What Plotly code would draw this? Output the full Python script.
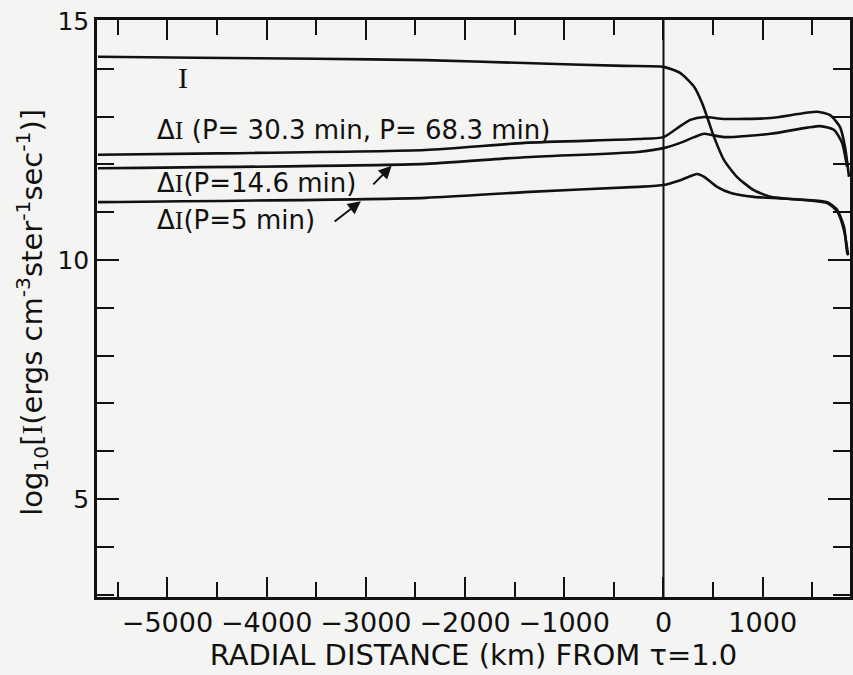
# Intensidad I y perturbaciones ΔI frente a la distancia radial desde tau = 1

import plotly.graph_objects as go

# Curva I
x_I = [-5700, -4700, -3500, -2400, -1400, -400, 0, 170, 310, 390, 440, 510, 610,
       740, 910, 1080, 1250, 1420, 1650, 1750, 1820, 1850, 1862]
y_I = [14.25, 14.23, 14.21, 14.18, 14.12, 14.06, 14.04, 13.91, 13.62, 13.28, 12.99,
       12.57, 12.09, 11.74, 11.46, 11.32, 11.28, 11.26, 11.21, 11.05, 10.69, 10.17, 10.1]

# ΔI (P = 30.3 min, P = 68.3 min)
x_p30 = [-5700, -4500, -2400, -1400, -260, 0, 140, 270, 410, 610, 1080, 1550,
         1680, 1780, 1830, 1870]
y_p30 = [12.20, 12.23, 12.30, 12.45, 12.53, 12.57, 12.76, 12.93, 12.99, 12.95,
         12.97, 13.10, 13.03, 12.78, 12.36, 11.74]

# ΔI (P = 14.6 min)
x_p14 = [-5700, -2400, -1400, -260, 0, 170, 310, 410, 610, 1080, 1580, 1720, 1800, 1850]
y_p14 = [11.92, 12.01, 12.15, 12.26, 12.34, 12.45, 12.57, 12.64, 12.57, 12.64,
         12.80, 12.72, 12.45, 11.95]

# ΔI (P = 5 min)
x_p5 = [-5700, -2400, -1400, -260, 0, 170, 340, 410, 540, 680, 910, 1250, 1650,
        1750, 1820, 1860]
y_p5 = [11.21, 11.30, 11.42, 11.53, 11.57, 11.67, 11.80, 11.74, 11.53, 11.40,
        11.32, 11.28, 11.19, 11.02, 10.62, 10.12]

negro = "#111111"
fondo = "#f4f4f2"
fuente = "DejaVu Sans"
serif_I = '<span style="font-family:Liberation Serif">I</span>'

fig = go.Figure()
for xs, ys in [(x_I, y_I), (x_p30, y_p30), (x_p14, y_p14), (x_p5, y_p5)]:
    fig.add_trace(go.Scatter(x=xs, y=ys, mode="lines",
                             line=dict(color=negro, width=2.6, shape="spline", smoothing=0.6),
                             showlegend=False, hoverinfo="skip"))

# linea vertical en 0
fig.add_vline(x=0, line=dict(color=negro, width=2))

# etiquetas de las curvas
fig.add_annotation(x=-4843, y=13.81, text=serif_I, showarrow=False,
                   font=dict(family="Liberation Serif", size=30, color=negro))
fig.add_annotation(x=-5130, y=12.72, xanchor="left", showarrow=False,
                   text="Δ" + serif_I + " (P= 30.3 min, P= 68.3 min)",
                   font=dict(family=fuente, size=26, color=negro))
fig.add_annotation(x=-5130, y=11.61, xanchor="left", showarrow=False,
                   text="Δ" + serif_I + "(P=14.6 min)",
                   font=dict(family=fuente, size=26, color=negro))
fig.add_annotation(x=-5130, y=10.84, xanchor="left", showarrow=False,
                   text="Δ" + serif_I + "(P=5 min)",
                   font=dict(family=fuente, size=26, color=negro))

# flechas
for (hx, hy, tx, ty) in [(-2740, 11.97, -2940, 11.55), (-3050, 11.23, -3330, 10.78)]:
    fig.add_annotation(x=hx, y=hy, ax=tx, ay=ty, xref="x", yref="y", axref="x", ayref="y",
                       text="", showarrow=True, arrowhead=2, arrowsize=1.3,
                       arrowwidth=2, arrowcolor=negro)

# titulo del eje y
fig.add_annotation(xref="paper", yref="paper", x=-0.117, y=0.494, textangle=-90,
                   showarrow=False,
                   text="log<sub>10</sub>[" + serif_I + "(ergs cm<sup>-3</sup>ster<sup>-1</sup>sec<sup>-1</sup>)]",
                   font=dict(family=fuente, size=29, color=negro))

fig.update_layout(
    width=853, height=675,
    margin=dict(l=97, r=0, t=20, b=78),
    paper_bgcolor=fondo, plot_bgcolor=fondo,
    font=dict(family=fuente, color=negro),
)

fig.update_xaxes(
    range=[-5710, 1880], showgrid=False, zeroline=False,
    showline=True, linecolor=negro, linewidth=2.5, mirror="ticks",
    ticks="inside", ticklen=20, tickwidth=2, tickcolor=negro,
    tick0=0, dtick=1000, tickangle=0,
    minor=dict(ticks="inside", dtick=500, tick0=0, ticklen=15, tickwidth=2, tickcolor=negro),
    tickfont=dict(size=27, color=negro),
    title=dict(text="RADIAL DISTANCE (km) FROM τ=1.0", font=dict(size=29, color=negro), standoff=4),
)

fig.update_yaxes(
    range=[2.95, 15.02], showgrid=False, zeroline=False,
    showline=True, linecolor=negro, linewidth=2.5, mirror="ticks",
    ticks="inside", ticklen=22, tickwidth=2, tickcolor=negro,
    tickvals=[5, 10, 15],
    minor=dict(ticks="inside", dtick=1, tick0=0, ticklen=17, tickwidth=2, tickcolor=negro),
    tickfont=dict(size=25, color=negro),
)

fig.write_html("out.html", config={"displayModeBar": False},
               post_script="document.body.style.margin='0';document.body.style.overflow='hidden';")
